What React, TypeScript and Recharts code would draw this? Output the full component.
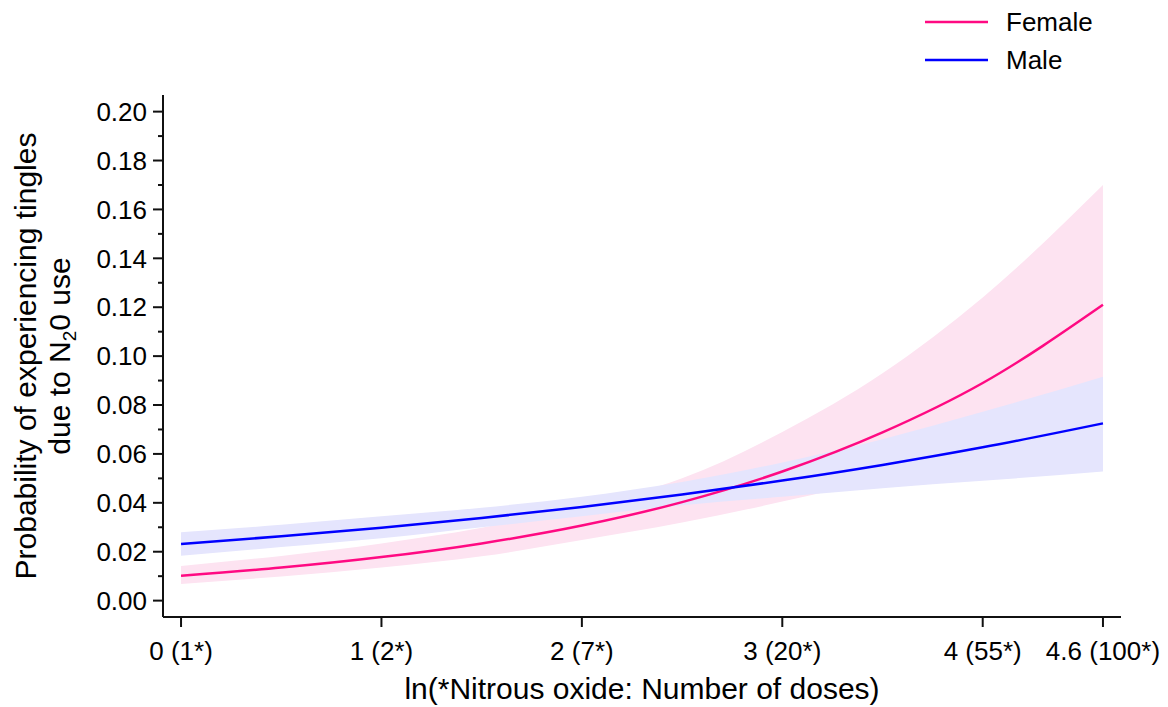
import React from 'react'
import {
  ComposedChart,
  Area,
  Line,
  XAxis,
  YAxis,
  Legend
} from 'recharts'

// ln(number of doses) grid the predictions were read at
const xs = [0, 0.5, 1, 1.5, 2, 2.5, 3, 3.5, 4, 4.6]

const femaleP = [0.0102, 0.0135, 0.0178, 0.0234, 0.0307, 0.0403, 0.0528, 0.0688, 0.089, 0.121]
const femaleLo = [0.0068, 0.0099, 0.0135, 0.0181, 0.0248, 0.032, 0.0405, 0.0505, 0.064, 0.084]
const femaleHi = [0.0142, 0.0183, 0.0234, 0.0298, 0.0385, 0.05, 0.069, 0.093, 0.124, 0.17]

const maleP = [0.0232, 0.0263, 0.0298, 0.0338, 0.0383, 0.0434, 0.0491, 0.0555, 0.0627, 0.0725]
const maleLo = [0.0184, 0.0219, 0.0255, 0.03, 0.0345, 0.039, 0.0425, 0.046, 0.049, 0.0528]
const maleHi = [0.028, 0.031, 0.0345, 0.038, 0.0425, 0.0485, 0.0565, 0.066, 0.0772, 0.0916]

const xTicks = [0, 1, 2, 3, 4, 4.6]
const xTickLabels = ['0 (1*)', '1 (2*)', '2 (7*)', '3 (20*)', '4 (55*)', '4.6 (100*)']

const yMajor = [0, 0.02, 0.04, 0.06, 0.08, 0.1, 0.12, 0.14, 0.16, 0.18, 0.2]
const yMinor = [0.01, 0.03, 0.05, 0.07, 0.09, 0.11, 0.13, 0.15, 0.17, 0.19]

const data = xs.map((x, i) => ({
  x,
  female: femaleP[i],
  femaleBand: [femaleLo[i], femaleHi[i]],
  male: maleP[i],
  maleBand: [maleLo[i], maleHi[i]]
}))

const FONT = '"Liberation Sans", Arial, sans-serif'
const PINK = '#ff0a82'
const BLUE = '#0000ff'
const AXIS = '#111'
const FS = 26
const TITLE_FS = 30
const TICK = 10
const TICK_GAP = 6

const isMajor = (v: number) => yMajor.some((m) => Math.abs(m - v) < 1e-9)

function YTick(props: any) {
  const { x, y, payload } = props
  const axisX = x + TICK_GAP + TICK
  const major = isMajor(payload.value)
  return (
    <g>
      <line
        x1={axisX - (major ? TICK : 5)}
        x2={axisX}
        y1={y}
        y2={y}
        stroke={AXIS}
        strokeWidth={2}
      />
      {major && (
        <text x={x} y={y} dy="0.355em" textAnchor="end" fill="#000" fontSize={FS} fontFamily={FONT}>
          {payload.value.toFixed(2)}
        </text>
      )}
    </g>
  )
}

function YTitle(props: any) {
  const vb = props.viewBox || { y: 87, height: 522 }
  const cy = vb.y + vb.height / 2
  return (
    <g fontSize={TITLE_FS} fontFamily={FONT} fill="#000">
      <text x={28} y={cy} textAnchor="middle" transform={`rotate(-90, 28, ${cy})`}>
        Probability of experiencing tingles
      </text>
      <text x={62} y={cy} textAnchor="middle" transform={`rotate(-90, 62, ${cy})`}>
        <tspan>due to N</tspan>
        <tspan dy={6} fontSize={19}>2</tspan>
        <tspan dy={-6}>0 use</tspan>
      </text>
    </g>
  )
}

const legendItems = [
  { label: 'Female', color: PINK },
  { label: 'Male', color: BLUE }
]

function LegendBox() {
  return (
    <div style={{ fontFamily: FONT, fontSize: FS, color: '#000' }}>
      {legendItems.map((it, i) => (
        <div
          key={it.label}
          style={{ display: 'flex', alignItems: 'center', height: 28, marginTop: i ? 10 : 0 }}
        >
          <svg width={63} height={6} style={{ display: 'block' }}>
            <line x1={0} x2={63} y1={3} y2={3} stroke={it.color} strokeWidth={2.5} />
          </svg>
          <span style={{ marginLeft: 18, lineHeight: '28px' }}>{it.label}</span>
        </div>
      ))}
    </div>
  )
}

export default function App() {
  return (
    <ComposedChart
      width={1160}
      height={699}
      data={data}
      margin={{ top: 87, right: 47, left: 75, bottom: 0 }}
      style={{ fontFamily: FONT }}
    >
      <XAxis
        dataKey="x"
        type="number"
        domain={[-0.09, 4.69]}
        allowDataOverflow
        ticks={xTicks}
        interval={0}
        tickFormatter={(v: number) => xTickLabels[xTicks.indexOf(v)] ?? String(v)}
        tick={{ fill: '#000', fontSize: FS }}
        tickSize={TICK}
        tickMargin={15}
        height={90}
        axisLine={{ stroke: AXIS, strokeWidth: 2 }}
        tickLine={{ stroke: AXIS, strokeWidth: 2 }}
        label={{
          value: 'ln(*Nitrous oxide: Number of doses)',
          position: 'insideBottom',
          offset: 8,
          fill: '#000',
          fontSize: TITLE_FS
        }}
      />
      <YAxis
        type="number"
        domain={[-0.0067, 0.2068]}
        allowDataOverflow
        ticks={[...yMajor, ...yMinor].sort((a, b) => a - b)}
        interval={0}
        tick={<YTick />}
        tickLine={false}
        tickSize={TICK}
        tickMargin={TICK_GAP}
        width={80}
        axisLine={{ stroke: AXIS, strokeWidth: 2 }}
        label={<YTitle />}
      />
      <Legend
        content={<LegendBox />}
        layout="vertical"
        align="center"
        verticalAlign="middle"
        wrapperStyle={{ left: 917, top: 0, width: 200 }}
      />
      <Area
        dataKey="femaleBand"
        type="monotone"
        stroke="none"
        fill="#fde3f1"
        fillOpacity={1}
        isAnimationActive={false}
        activeDot={false}
        legendType="none"
      />
      <Area
        dataKey="maleBand"
        type="monotone"
        stroke="none"
        fill="#e5e5fd"
        fillOpacity={1}
        isAnimationActive={false}
        activeDot={false}
        legendType="none"
      />
      <Line
        dataKey="female"
        type="monotone"
        stroke={PINK}
        strokeWidth={2.5}
        dot={false}
        activeDot={false}
        isAnimationActive={false}
      />
      <Line
        dataKey="male"
        type="monotone"
        stroke={BLUE}
        strokeWidth={2.5}
        dot={false}
        activeDot={false}
        isAnimationActive={false}
      />
    </ComposedChart>
  )
}
